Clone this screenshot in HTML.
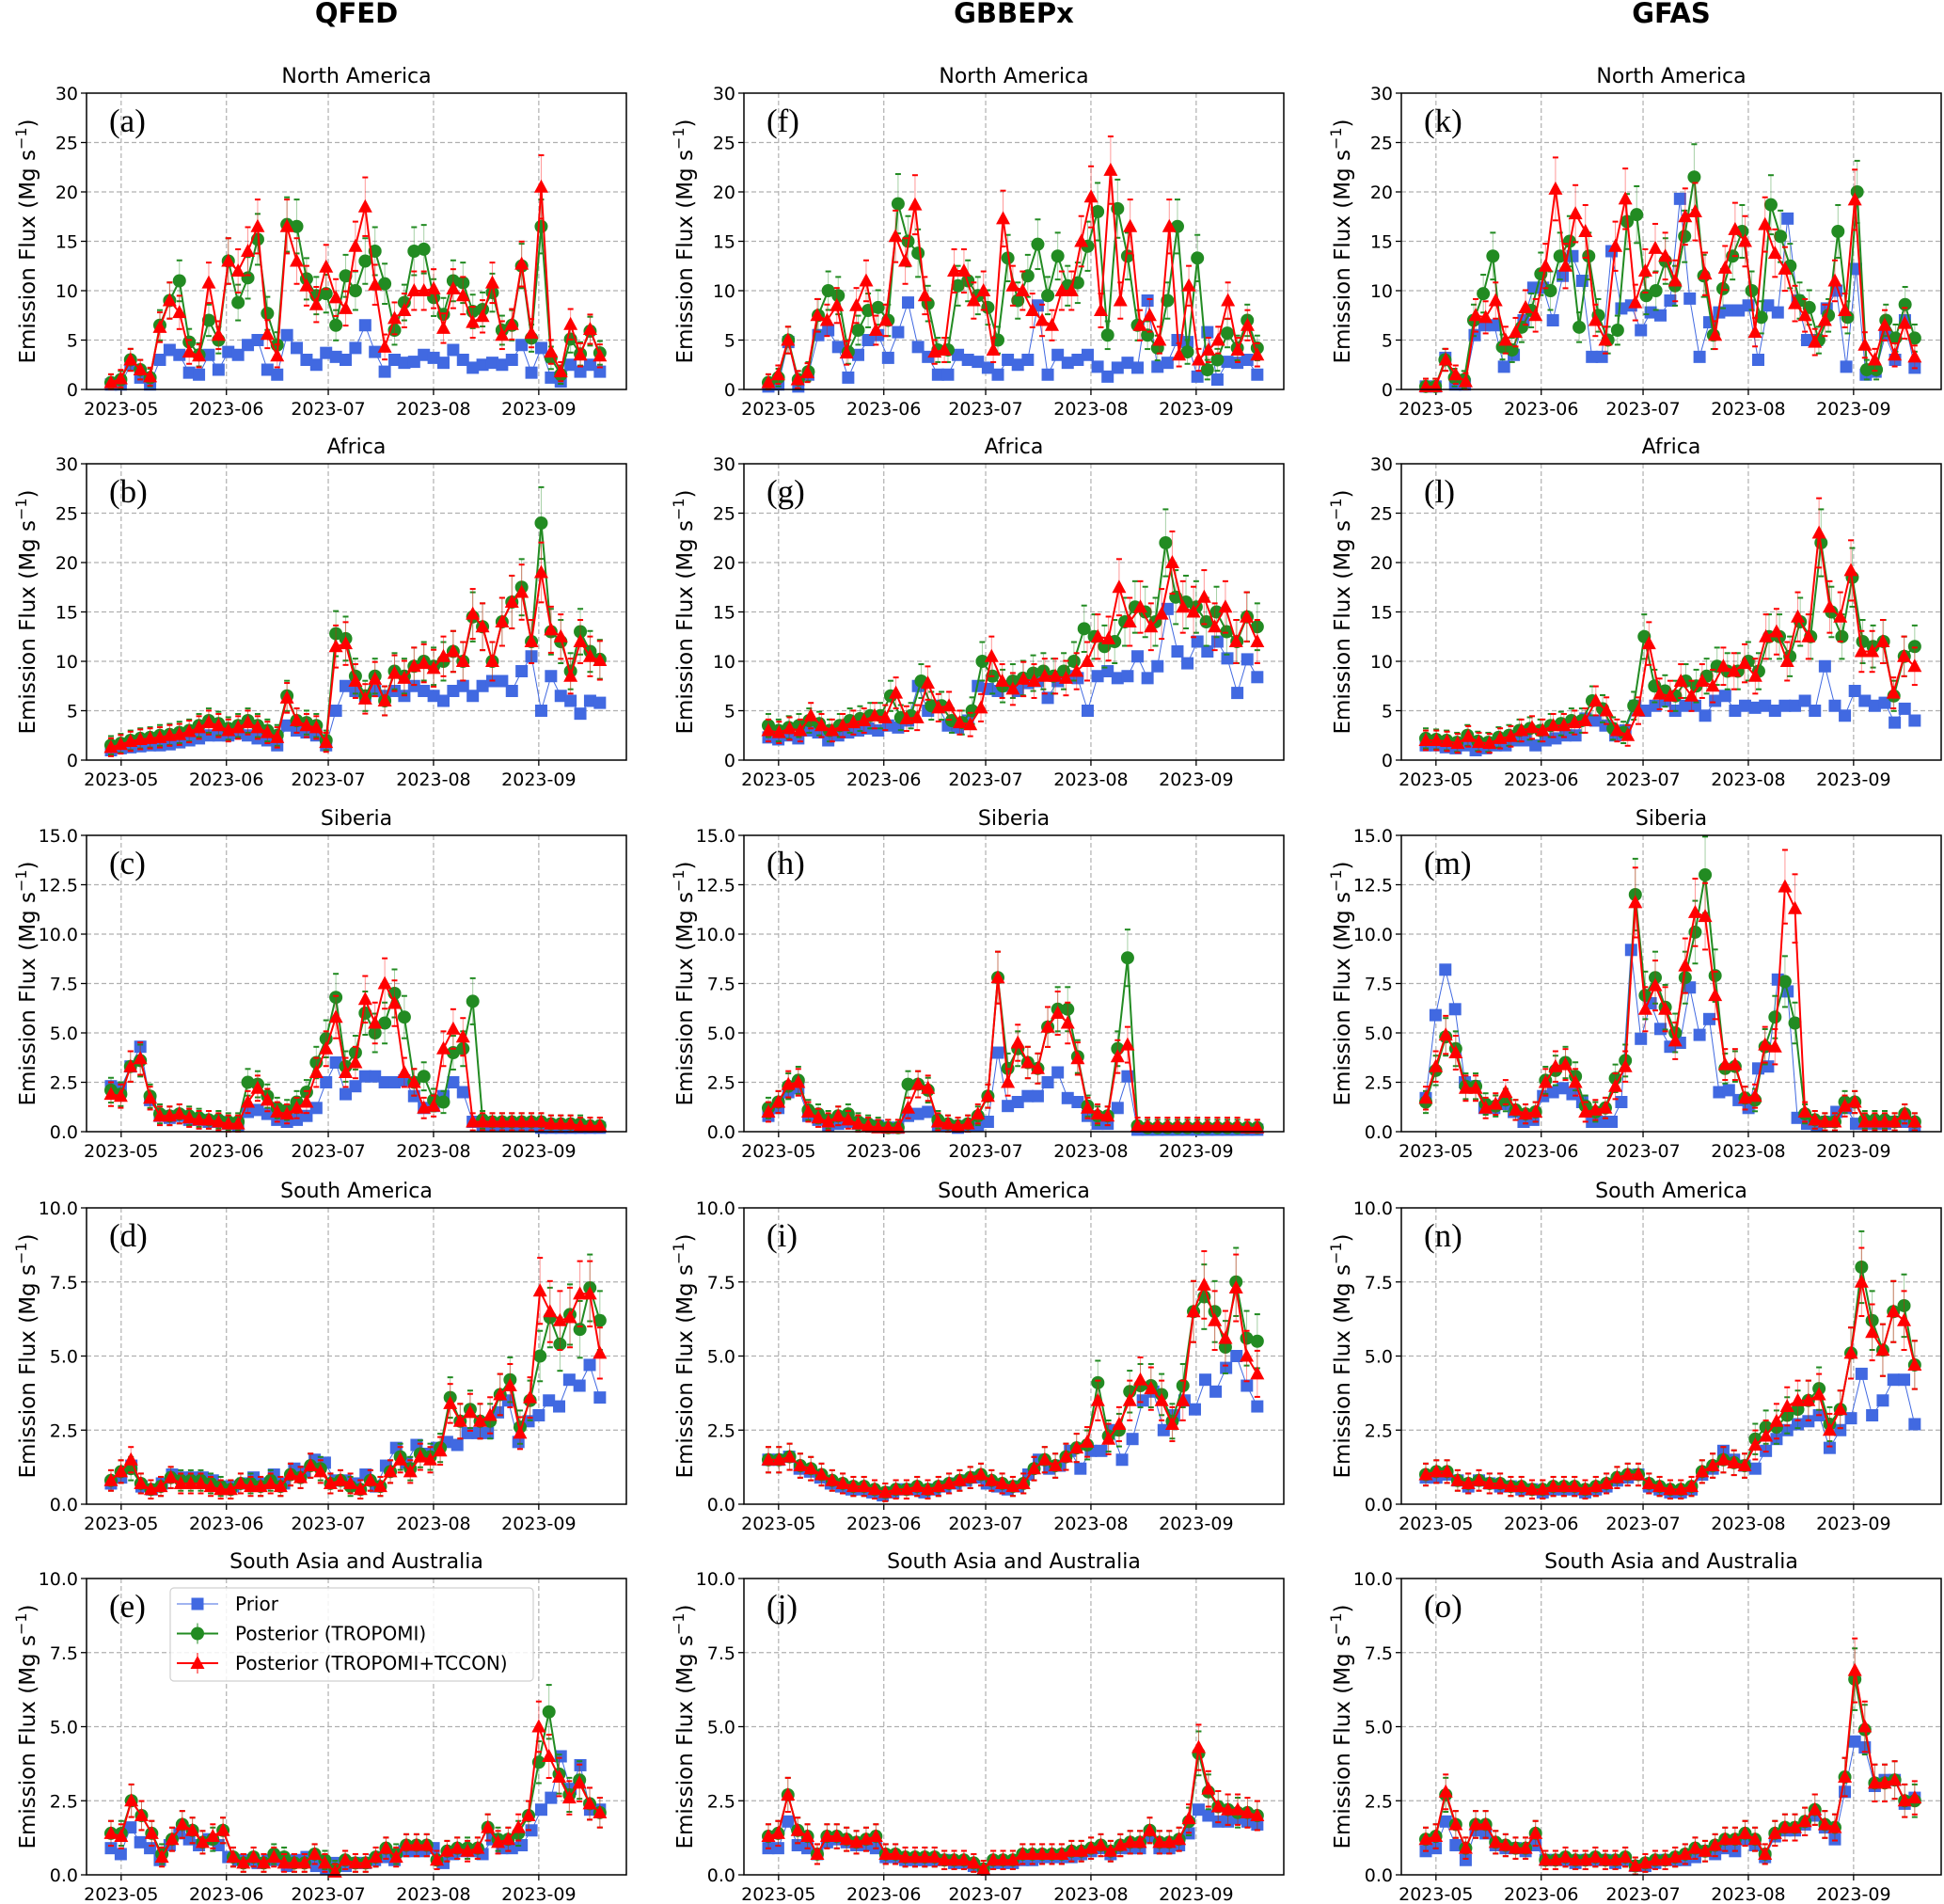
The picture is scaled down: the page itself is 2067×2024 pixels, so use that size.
<!DOCTYPE html>
<html><head><meta charset="utf-8"><style>
html,body{margin:0;padding:0;background:#fff;}
svg{display:block;}
text{font-family:"DejaVu Sans","Liberation Sans",sans-serif;}
text.letter{font-family:"Liberation Serif",serif;}
</style></head><body>
<svg id="fig" width="2067" height="2024" viewBox="0 0 2067 2024" xmlns="http://www.w3.org/2000/svg"></svg>
<script>
// ---- chart data ----
const columnTitles = ["QFED", "GBBEPx", "GFAS"];
const rowTitles = ["North America", "Africa", "Siberia", "South America", "South Asia and Australia"];
const panelLetters = [["a","b","c","d","e"],["f","g","h","i","j"],["k","l","m","n","o"]];
const xTickLabels = ["2023-05","2023-06","2023-07","2023-08","2023-09"];
const xTickDays = [0, 31, 61, 92, 123];
const yMaxByRow = [30, 30, 15, 10, 10];
const yTicks30 = ["0","5","10","15","20","25","30"];
const yTicks15 = ["0.0","2.5","5.0","7.5","10.0","12.5","15.0"];
const yTicks10 = ["0.0","2.5","5.0","7.5","10.0"];
const seriesNames = ["Prior","Posterior (TROPOMI)","Posterior (TROPOMI+TCCON)"];
const firstDay = -3, lastDay = 141;

// QFED
const priorA=[0.5,0.5,2.5,1.2,0.5,3,4,3.5,1.7,1.5,3.5,2,3.8,3.5,4.5,5,2,1.5,5.5,4.2,3,2.5,3.7,3.3,3.0,4.2,6.5,3.8,1.8,3,2.7,2.8,3.5,3.2,2.7,4,3,2.2,2.5,2.7,2.5,3,4.5,1.7,4.2,1.2,0.8,2.5,1.8,2.5,1.8];
const greenA=[0.7,1,3,2,1.2,6.5,9,11,4.8,3.5,7,5,13,8.8,11.3,15.2,7.7,4.5,16.7,16.5,11.2,9.5,9.7,6.5,11.5,10,13,14,10.7,6,8.8,14,14.2,9.3,7.6,11,10.8,7.9,8.1,9.8,6,6.5,12.5,5.2,16.5,3.2,1.5,5.1,3.6,5.9,3.7];
const redA=[0.7,1.1,3,2,1.3,6.3,9,7.8,3.8,3.4,10.8,5.5,13,12,14,16.5,5.6,3.4,16.5,13,10.5,8.6,12.4,9.3,8.2,14.5,18.5,10.6,4.3,7.2,8,10,10,10.2,6.2,10.2,9.5,6.8,7.4,10.8,5.5,6.6,12.7,5.7,20.5,3.8,1.8,6.6,3.5,6.1,3.4];
const priorB=[1,1.2,1.3,1.4,1.5,1.5,1.6,1.8,2,2.2,2.5,2.5,2.5,2.7,2.5,2.2,2,1.5,3.5,3,2.8,2.5,1.5,5,7.5,7,6.5,7,6.5,7,6.5,7.5,7,6.5,6,7,7.5,6.5,7.5,8,8,7,9,10.5,5,8.5,6.5,6,4.7,6,5.8];
const greenB=[1.5,1.7,2,2.2,2.3,2.5,2.6,2.8,3,3.5,4,3.7,3.2,3.5,4,3.5,3,2.5,6.5,4,3.8,3.5,2,12.8,12.3,8.5,6.5,8.5,6,9,8.5,9.5,10,9.5,10,11,10,14.5,13.5,10,14,16,17.5,12,24,13,12,9,13,11,10.2];
const redB=[1.3,1.6,1.9,2.1,2.2,2.3,2.5,2.6,2.9,3.3,3.8,3.5,3,3.3,3.8,3.3,2.8,2.3,6.3,4,3.5,3.3,1.8,11.5,11.8,8,6.2,8.2,6,8.8,8.3,9.5,9.8,9.3,10.5,11,10,14.8,13.5,10,14,16,17,12,19,13.2,12.5,8.5,12,10.5,10.1];
const priorC=[2.3,2.2,3.3,4.3,1.6,0.8,0.7,0.8,0.6,0.6,0.5,0.5,0.4,0.3,1,1.1,0.9,0.6,0.5,0.6,0.8,1.2,2.5,3.5,1.9,2.3,2.8,2.8,2.5,2.5,2.6,1.8,1.2,1.3,1.8,2.5,2,0.5,0.3,0.3,0.3,0.3,0.3,0.3,0.2,0.2,0.2,0.2,0.2,0.2,0.2];
const greenC=[2.1,1.9,3.3,3.6,1.8,0.9,0.8,0.9,0.8,0.7,0.6,0.6,0.5,0.5,2.5,2.4,1.8,1.2,1.1,1.5,2,3.5,4.7,6.8,3.3,4,6,5,5.5,7,5.8,2.5,2.8,1.6,1.5,4,4.2,6.6,0.6,0.5,0.5,0.5,0.5,0.5,0.5,0.4,0.4,0.4,0.4,0.3,0.3];
const redC=[1.9,1.8,3.3,3.7,1.7,0.8,0.8,0.9,0.7,0.6,0.6,0.5,0.4,0.4,1.5,2.2,1.6,1,0.9,1.2,1.5,3,4.2,5.8,3,3.5,6.7,5.5,7.5,6.5,3,2.5,1.2,1.3,4.2,5.2,4.8,0.5,0.5,0.5,0.5,0.5,0.5,0.5,0.5,0.4,0.4,0.4,0.3,0.3,0.3];
const priorD=[0.7,0.9,1.3,0.6,0.5,0.7,1,0.9,0.9,0.9,0.8,0.6,0.6,0.7,0.9,0.7,1,0.7,1.2,1.1,1.5,1.4,0.8,0.8,0.7,1,0.6,1.3,1.9,1.4,2,1.7,1.9,2.1,2,2.4,2.4,2.4,3.1,3.5,2.1,2.8,3,3.5,3.3,4.2,4,4.7,3.6];
const greenD=[0.8,1.1,1.2,0.7,0.5,0.6,0.9,0.8,0.8,0.8,0.7,0.6,0.5,0.7,0.7,0.6,0.8,0.6,1,0.9,1.3,1.2,0.7,0.8,0.6,0.5,0.8,0.6,1.1,1.6,1.2,1.7,1.6,1.9,3.6,2.8,3.2,2.8,2.8,3.7,4.2,2.6,3.5,5,6.3,5.4,6.4,5.9,7.3,6.2];
const redD=[0.8,1.1,1.5,0.7,0.5,0.6,0.9,0.7,0.7,0.7,0.6,0.5,0.5,0.7,0.6,0.6,0.7,0.6,1,0.9,1.3,1.1,0.7,0.8,0.7,0.5,0.8,0.6,1.1,1.5,1.1,1.6,1.5,1.8,3.4,2.8,3.1,2.8,3,3.7,4,2.4,3.6,7.2,6.5,6.2,6.3,7.1,7.1,5.1];
const priorE=[0.9,0.7,1.6,1.1,0.9,0.5,1,1.4,1.2,1,1.2,1,0.6,0.5,0.5,0.4,0.5,0.5,0.3,0.5,0.6,0.3,0.2,0.4,0.3,0.4,0.4,0.5,0.6,0.5,0.8,0.8,0.8,0.9,0.4,0.7,0.8,0.8,0.7,1.2,0.9,0.9,1,1.5,2.2,2.6,4,2.9,3.7,2.2,2.2];
const greenE=[1.4,1.4,2.5,2,1.4,0.7,1.2,1.7,1.5,1.1,1.2,1.5,0.6,0.4,0.6,0.4,0.7,0.6,0.4,0.4,0.7,0.5,0.2,0.5,0.4,0.4,0.6,0.9,0.7,1,1,1,0.5,0.8,0.9,0.9,0.9,1.6,1.2,1.2,1.4,2,3.8,5.5,3.4,2.7,3.2,2.4,2.1];
const redE=[1.4,1.3,2.5,2,1.4,0.6,1.2,1.7,1.5,1.1,1.3,1.5,0.6,0.4,0.6,0.4,0.6,0.4,0.4,0.4,0.7,0.4,0.1,0.5,0.4,0.4,0.6,0.9,0.6,1,1,1,0.5,0.8,0.9,0.8,0.9,1.6,1.1,1.2,1.6,2,5,4,3.3,2.6,3.1,2.4,2.1];
// GBBEPx
const priorF=[0.3,0.5,4.8,0.3,1.5,5.5,6,4.3,1.2,3.5,5,5.5,3.2,5.8,8.8,4.3,3.3,1.5,1.5,3.5,3,2.8,2.2,1.5,3,2.5,3,8.5,1.5,3.5,2.7,3,3.5,2.3,1.3,2.2,2.7,2.2,9,2.3,2.7,5,4.8,1.3,5.8,1,2.8,2.7,3,1.5];
const greenF=[0.7,1.2,5,1,1.8,7.5,10,9.5,3.8,6,8,8.3,7,18.8,15,13.8,8.7,4,4,10.5,11,9.5,8.3,5,13.3,9,11.5,14.7,9.5,13.5,10.5,10.8,14.5,18,5.5,18.3,13.5,6.5,5.5,4.2,9,16.5,3.8,13.3,2,3,5.7,4.2,7,4.2];
const redF=[0.7,1.5,5,1,1.7,7.5,7,8.5,3.7,8.5,11,6,7,15.5,13,18.7,9.5,3.8,4,12,12,9,10,4,17.3,10.5,10,8,7,6.5,10,10,15,19.5,8,22.2,9,16.5,6.5,7.5,5,16.5,3.5,10.5,3,4,5,9,4,6.5,3.5];
const priorG=[2.3,2.1,2.5,2.2,3,2.8,2,2.5,2.8,3,3.2,3,3.5,3.3,4,7.5,5,5.5,3.5,3.3,4,7.5,7.2,7,7.5,7,7.8,8,6.3,8,8.5,8.3,5,8.5,9,8.3,8.5,10.5,8.3,9.5,15.3,11,9.8,12,11,12,10.3,6.8,10.2,8.4];
const greenG=[3.5,3,3.3,3.5,4,3.7,3,3.5,4,4.2,4.5,4.5,6.5,4.3,4.5,8,5.5,5.5,4,3.8,5,10,8.5,7.5,8,8.3,8.8,9,8.5,9,10,13.3,12.5,11.5,12,14,15.5,15,14,22,16.5,16,15.5,14,15,13,12,14.5,13.5];
const redG=[3,2.8,3.2,3,4.5,3.5,3,3.5,3.8,4,4.5,4.3,6.8,4.2,4.3,7.8,5.3,5.5,3.8,3.6,5.3,10.5,8,7.2,8.2,8,8.5,8.5,8.3,9,10,12.5,12.3,17.5,14,15.5,13.5,14.8,20,15.5,15,16.5,13.5,15.5,12,14.5,12];
const priorH=[0.8,1.2,2,2.2,0.8,0.6,0.3,0.4,0.5,0.4,0.3,0.3,0.2,0.2,0.8,0.9,1,0.3,0.3,0.2,0.3,0.3,0.5,4,1.3,1.5,1.8,1.8,2.5,3,1.7,1.5,0.8,0.4,0.4,1.2,2.8,0.1,0.1,0.1,0.1,0.1,0.1,0.1,0.1,0.1,0.1,0.1,0.1,0.1];
const greenH=[1.2,1.5,2.3,2.6,1.1,0.9,0.6,0.8,0.9,0.5,0.4,0.3,0.2,0.2,2.4,2.4,2.1,0.6,0.4,0.3,0.4,0.8,1.8,7.8,3.2,4.2,3.5,3.2,5.3,6.2,6.2,3.8,1.3,0.8,0.8,4.2,8.8,0.3,0.2,0.2,0.2,0.2,0.2,0.2,0.2,0.2,0.2,0.2,0.2,0.2];
const redH=[1,1.5,2.4,2.5,1,0.7,0.5,0.8,0.6,0.4,0.3,0.2,0.2,0.2,1.2,2.4,2.2,0.5,0.4,0.3,0.4,0.9,1.8,7.8,2.5,4.5,3.5,3.2,5.3,6,5.5,3.7,1.2,0.9,0.8,3.8,4.4,0.3,0.3,0.3,0.3,0.3,0.3,0.3,0.3,0.3,0.3,0.3,0.2,0.2];
const priorI=[1.5,1.5,1.6,1.2,1.1,0.9,0.7,0.6,0.5,0.5,0.4,0.3,0.4,0.5,0.5,0.4,0.5,0.6,0.7,0.8,0.9,0.7,0.6,0.5,0.6,1,1.5,1.2,1.3,1.8,1.2,1.8,1.8,2.5,1.5,2.2,3.5,3.8,2.5,3,3.5,3.2,4.2,3.8,4.6,5,4,3.3];
const greenI=[1.5,1.5,1.6,1.3,1.2,1,0.8,0.7,0.6,0.6,0.5,0.4,0.5,0.5,0.6,0.5,0.6,0.7,0.8,0.9,1,0.8,0.7,0.6,0.7,1.2,1.5,1.3,1.6,1.9,2,4.1,2.3,2.5,3.8,4,4,3.7,2.8,4,6.5,7,6.5,5.3,7.5,5.6,5.5];
const redI=[1.5,1.5,1.6,1.3,1.2,1,0.8,0.7,0.6,0.6,0.5,0.4,0.5,0.5,0.6,0.5,0.6,0.7,0.8,0.9,1,0.8,0.7,0.6,0.7,1.2,1.5,1.3,1.6,1.9,2.1,3.5,2.2,2.7,3.5,4.2,3.9,3.5,2.7,3.5,6.5,7.4,6.2,5.6,7.3,5,4.4];
const priorJ=[0.9,0.9,1.8,1,0.9,0.7,1.1,1.2,1.1,1,1,0.9,0.6,0.6,0.5,0.5,0.5,0.5,0.5,0.4,0.4,0.3,0.2,0.4,0.4,0.4,0.5,0.5,0.6,0.6,0.6,0.6,0.7,0.8,0.9,0.7,0.9,0.9,0.9,1.3,0.9,0.9,1,1.4,2.2,2,1.8,1.8,1.9,1.8,1.7];
const greenJ=[1.3,1.4,2.7,1.5,1.3,0.7,1.3,1.3,1.2,1.1,1.2,1.3,0.7,0.7,0.6,0.6,0.6,0.6,0.5,0.5,0.5,0.4,0.2,0.5,0.5,0.5,0.7,0.7,0.7,0.7,0.7,0.8,0.8,0.9,1,0.8,1,1.1,1.1,1.5,1.1,1.1,1.2,1.8,4.1,2.8,2.3,2.2,2.1,2.1,2];
const redJ=[1.3,1.4,2.7,1.5,1.3,0.7,1.3,1.3,1.2,1.1,1.2,1.3,0.7,0.7,0.6,0.6,0.6,0.6,0.5,0.5,0.5,0.4,0.2,0.5,0.5,0.5,0.7,0.7,0.7,0.7,0.7,0.8,0.8,0.9,1,0.8,1,1.1,1.1,1.5,1.1,1.1,1.2,1.9,4.3,2.9,2.3,2.2,2.2,2.1,2];
// GFAS
const priorK=[0.3,0.3,3.2,0.5,0.5,5.5,6.5,6.5,2.3,3.5,7,10.3,10.3,7,11.5,13.5,11,3.3,3.3,14,8.2,8.5,6,7.8,7.5,9,19.3,9.2,3.3,6.8,7.8,8,8,8.5,3,8.5,7.8,17.3,9,5,5,8.2,10,2.3,12.2,1.5,1.8,5.5,3,7,2.2];
const greenK=[0.3,0.3,3,1.2,1,7,9.7,13.5,4.3,4,6.3,8,11.7,10,13.5,15,6.3,13.5,7.5,5,6,17,17.7,9.5,10,13,10.5,15.5,21.5,11.5,5.5,10.2,13.5,16,10,7.3,18.7,15.5,12.5,9,8.3,5,7.5,16,7.3,20,2,2,7,5.2,8.6,5.2];
const redK=[0.3,0.3,3,1.5,0.8,7.5,7.3,9,5,5.8,8.3,7.5,12.5,20.3,12.5,17.8,16,7,5,14.5,19.3,8.8,12,14.3,13.5,11,17.5,18,11.7,5.5,12.3,16.2,15,5.8,16.7,13.8,12.2,8.7,7.5,4.8,7,11,8,19.2,4.5,3,6.5,3.5,6.7,3.3];
const priorL=[1.5,1.5,1.3,1.2,1.5,1,1.2,1.5,1.5,2,2,1.5,2,2.2,2.5,2.5,4.2,4,3.5,2.5,3,5.5,5,5.5,6,5,5.5,5.5,4.5,6,6.5,5,5.5,5.3,5.5,5,5.5,5.5,6,5,9.5,5.5,4.5,7,6,5.5,5.8,3.8,5.2,4];
const greenL=[2.2,2.1,2,1.8,2.5,1.9,1.8,2.3,2.5,3,3.2,3,3.5,3.7,4,4,6,5.2,3.2,2.8,5.5,12.5,7.5,7,6.5,8,7.5,8.5,9.5,9,9,10,9,12.5,12.5,10.5,14,12.5,22,15,12.5,18.5,12,11.5,12,6.5,10.5,11.5];
const redL=[2,2,1.9,1.7,2.4,1.8,1.7,2.2,2.4,3,3.3,3,3.5,3.5,3.8,4,6,5,3,2.5,5,11.8,6.7,6.5,8,6.5,8,7.5,9.5,9,9.8,8.5,12.5,13,10,14.5,12.5,23,15.5,14.5,19.2,11,11,12,6.8,10.5,9.5];
const priorM=[1.7,5.9,8.2,6.2,2.5,2.3,1.2,1.2,1.4,1,0.5,0.6,1.8,2,2.2,1.9,1.5,0.5,0.5,0.5,1.5,9.2,4.7,6.5,5.2,4.3,4.5,7.3,4.9,5.7,2,2.1,1.6,1.2,3.2,3.3,7.7,7.1,0.7,0.4,0.3,0.5,1,1.2,0.4,0.4,0.4,0.4,0.5,0.5,0.3];
const greenM=[1.5,3.1,4.8,4.2,2.3,2.3,1.4,1.3,1.6,1.1,0.9,1,2.6,3.1,3.5,2.8,1.3,1,1.2,2.7,3.6,12,6.9,7.8,6.3,5,7.8,10.1,13,7.9,3.2,3.3,1.7,1.6,4.3,5.8,7.6,5.5,0.9,0.6,0.5,0.5,1.5,1.5,0.6,0.6,0.6,0.5,0.9,0.5];
const redM=[1.7,3.3,4.9,4,2.2,2.2,1.2,1.4,2,1.1,0.9,1,2.5,3.3,3.4,2.5,1,1.1,1.2,2.3,3.3,11.6,6.2,7.4,6.2,4.6,8.4,11.1,10.9,6.9,3.4,3.4,1.7,1.8,4.4,4.3,12.4,11.3,1,0.6,0.5,0.5,1.3,1.5,0.5,0.5,0.5,0.5,0.9,0.5];
const priorN=[0.9,0.9,1,0.8,0.6,0.8,0.7,0.6,0.6,0.5,0.5,0.4,0.5,0.5,0.5,0.4,0.5,0.6,0.8,0.9,1,0.6,0.5,0.4,0.4,0.5,1,1.2,1.8,1.5,1.3,1.2,1.8,2.2,2.5,2.7,2.8,3,1.9,2.5,2.9,4.4,3,3.5,4.2,4.2,2.7];
const greenN=[1,1.1,1.1,0.8,0.7,0.8,0.7,0.7,0.6,0.6,0.5,0.5,0.6,0.6,0.6,0.5,0.6,0.7,0.9,1,1,0.7,0.6,0.5,0.5,0.6,1.1,1.3,1.5,1.4,1.3,2.2,2.6,2.6,3,3.2,3.5,3.9,2.7,3.2,5.1,8,6.2,5.2,6.5,6.7,4.7];
const redN=[1,1.1,1.1,0.8,0.7,0.8,0.7,0.7,0.6,0.6,0.5,0.5,0.6,0.6,0.6,0.5,0.6,0.7,0.9,1,1,0.7,0.6,0.5,0.5,0.6,1.1,1.3,1.5,1.4,1.3,2,2.3,2.8,3.3,3.5,3.5,3.7,2.5,3.2,5.1,7.5,5.8,5.2,6.5,6.2,4.7];
const priorO=[0.8,0.9,1.8,1,0.5,1.5,1.4,1,0.9,0.9,0.8,1,0.5,0.5,0.5,0.4,0.5,0.5,0.5,0.4,0.5,0.3,0.3,0.4,0.5,0.5,0.5,0.6,0.8,0.7,0.9,0.8,1.2,1,0.6,1.3,1.5,1.5,1.7,2,1.6,1.2,2.8,4.5,4.3,3,3.2,3.2,2.4,2.6];
const greenO=[1.2,1.3,2.7,1.7,0.9,1.7,1.7,1.1,1,0.9,0.9,1.4,0.5,0.5,0.6,0.5,0.5,0.6,0.5,0.5,0.6,0.3,0.4,0.5,0.5,0.6,0.7,0.9,0.8,1,1.2,1.2,1.4,1.2,0.7,1.4,1.6,1.6,1.8,2.2,1.7,1.6,3.3,6.6,4.9,3.1,3.1,3.2,2.5,2.5];
const redO=[1.2,1.3,2.8,1.7,0.9,1.7,1.7,1.1,1,0.9,0.9,1.4,0.5,0.5,0.6,0.5,0.5,0.6,0.5,0.5,0.6,0.3,0.4,0.5,0.5,0.6,0.7,0.9,0.8,1,1.2,1.2,1.4,1.2,0.7,1.4,1.6,1.6,1.8,2.2,1.7,1.6,3.3,6.9,5,3.1,3.1,3.2,2.5,2.6];

const panelSeries = [
  [[priorA,greenA,redA],[priorB,greenB,redB],[priorC,greenC,redC],[priorD,greenD,redD],[priorE,greenE,redE]],
  [[priorF,greenF,redF],[priorG,greenG,redG],[priorH,greenH,redH],[priorI,greenI,redI],[priorJ,greenJ,redJ]],
  [[priorK,greenK,redK],[priorL,greenL,redL],[priorM,greenM,redM],[priorN,greenN,redN],[priorO,greenO,redO]]
];

// ---- layout ----
const NS = "http://www.w3.org/2000/svg";
const svg = document.getElementById("fig");
const colLeft = [92, 791, 1490];
const rowTop = [99, 493, 888, 1284, 1678];
const axW = 574, axH = 315;
const dayMin = -10.2, dayMax = 148.8;
const colors = ["#4169E1", "#228B22", "#FF0000"];
const errFrac = 0.12, errBase = 0.025;

function el(tag, attrs, parent) {
  const e = document.createElementNS(NS, tag);
  for (const k in attrs) e.setAttribute(k, attrs[k]);
  (parent || svg).appendChild(e);
  return e;
}
function txt(s, attrs, parent) { const t = el("text", attrs, parent); t.textContent = s; return t; }

columnTitles.forEach((t, c) => {
  const e = txt(t, {x: colLeft[c] + axW/2, y: 24, "text-anchor": "middle", "font-size": 29, "font-weight": "bold"});
  
  
});

for (let c = 0; c < 3; c++) {
  for (let r = 0; r < 5; r++) {
    const L = colLeft[c], T = rowTop[r], ymax = yMaxByRow[r];
    const g = el("g", {});
    
    
    const xs = d => L + (d - dayMin) / (dayMax - dayMin) * axW;
    const ys = v => T + axH - v / ymax * axH;
    const yLabels = ymax === 30 ? yTicks30 : (ymax === 15 ? yTicks15 : yTicks10);
    yLabels.forEach((lab, k) => {
      const v = parseFloat(lab), y = ys(v);
      if (v > 0 && v < ymax) el("line", {x1: L, x2: L+axW, y1: y, y2: y, stroke: "#b0b0b0", "stroke-dasharray": "5,3", "stroke-width": 1.2}, g);
      el("line", {x1: L-6, x2: L, y1: y, y2: y, stroke: "#000", "stroke-width": 1.3}, g);
      const t = txt(lab, {x: L-9, y: y+7, "text-anchor": "end", "font-size": 19}, g);
      
      
    });
    xTickDays.forEach((d, k) => {
      const x = xs(d);
      el("line", {x1: x, x2: x, y1: T, y2: T+axH, stroke: "#b0b0b0", "stroke-dasharray": "5,3", "stroke-width": 1.2}, g);
      el("line", {x1: x, x2: x, y1: T+axH, y2: T+axH+6, stroke: "#000", "stroke-width": 1.3}, g);
      const t = txt(xTickLabels[k], {x: x, y: T+axH+27, "text-anchor": "middle", "font-size": 19}, g);
      
      
    });
    const tt = txt(rowTitles[r], {x: L + axW/2, y: T - 11, "text-anchor": "middle", "font-size": 22}, g);
    
    
    const yl = el("text", {x: 0, y: 0, transform: `translate(${L-55},${T+axH/2}) rotate(-90)`, "text-anchor": "middle", "font-size": 23}, g);
    yl.innerHTML = 'Emission Flux (Mg s<tspan dy="-9" font-size="16">\u22121</tspan><tspan dy="9">)</tspan>';
    
    
    const lt = txt("(" + panelLetters[c][r] + ")", {x: L+24, y: T+41, "font-size": 35, "class": "letter"}, g);
    
    
    const ser = panelSeries[c][r];
    ser.forEach((vals, s) => {
      const n = vals.length;
      const dayOf = i => firstDay + i * (lastDay - firstDay) / (n - 1);
      const sg = el("g", {}, g);
      
      
      const col = colors[s];
      if (s > 0) {
        vals.forEach((v, i) => {
          const e = v * errFrac + ymax * errBase, x = xs(dayOf(i));
          el("line", {x1: x, x2: x, y1: ys(v+e), y2: ys(Math.max(0, v-e)), stroke: col, "stroke-width": 1, opacity: 0.4}, sg);
          el("line", {x1: x-3, x2: x+3, y1: ys(v+e), y2: ys(v+e), stroke: col, "stroke-width": 2}, sg);
          el("line", {x1: x-3, x2: x+3, y1: ys(Math.max(0, v-e)), y2: ys(Math.max(0, v-e)), stroke: col, "stroke-width": 2}, sg);
        });
      }
      const pts = vals.map((v, i) => xs(dayOf(i)).toFixed(1) + "," + ys(v).toFixed(1)).join(" ");
      const pl = el("polyline", {points: pts, fill: "none", stroke: col, "stroke-width": s === 0 ? 1 : 2}, sg);
      
      
      vals.forEach((v, i) => {
        const x = xs(dayOf(i)), y = ys(v);
        let m;
        if (s === 0) m = el("rect", {x: x-6.5, y: y-6.5, width: 13, height: 13, fill: col}, sg);
        else if (s === 1) m = el("circle", {cx: x, cy: y, r: 7, fill: col}, sg);
        else m = el("polygon", {points: `${x},${y-8} ${x-7.5},${y+6} ${x+7.5},${y+6}`, fill: col}, sg);
        
        
      });
    });
    el("rect", {x: L, y: T, width: axW, height: axH, fill: "none", stroke: "#000", "stroke-width": 1.5}, g);
  }
}

// legend in panel (e)
const lg = el("g", {});


el("rect", {x: 181, y: 1688, width: 386, height: 99, rx: 4, fill: "#fff", "fill-opacity": 0.85, stroke: "#d0d0d0", "stroke-width": 1.2}, lg);
seriesNames.forEach((nm, s) => {
  const y = 1705 + s * 31.5, col = colors[s];
  const eg = el("g", {}, lg);
  
  
  el("line", {x1: 188, x2: 232, y1: y, y2: y, stroke: col, "stroke-width": s === 0 ? 1 : 2}, eg);
  const x = 210;
  if (s === 0) el("rect", {x: x-6.5, y: y-6.5, width: 13, height: 13, fill: col}, eg);
  else if (s === 1) { el("line", {x1: x, x2: x, y1: y-11, y2: y+11, stroke: col, "stroke-width": 1}, eg); el("circle", {cx: x, cy: y, r: 7, fill: col}, eg); }
  else { el("line", {x1: x, x2: x, y1: y-11, y2: y+11, stroke: col, "stroke-width": 1}, eg); el("polygon", {points: `${x},${y-8} ${x-7.5},${y+6} ${x+7.5},${y+6}`, fill: col}, eg); }
  txt(nm, {x: 250, y: y + 7, "font-size": 20}, eg);
});
</script>
</body></html>
